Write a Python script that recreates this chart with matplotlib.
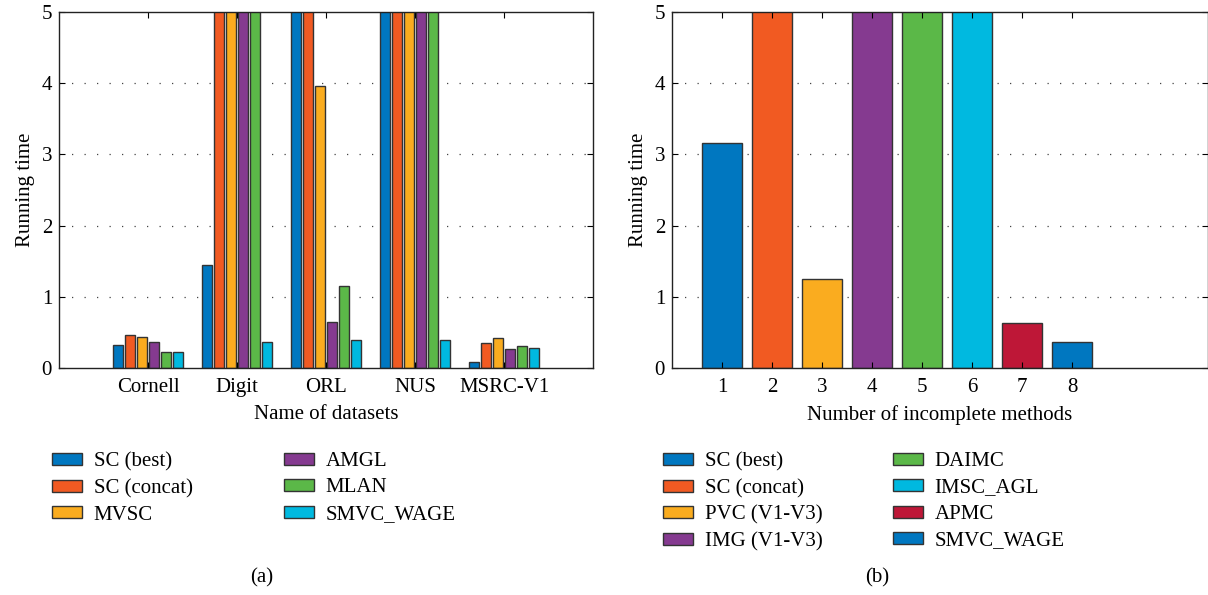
import matplotlib
matplotlib.use("Agg")
import matplotlib.pyplot as plt
from matplotlib.patches import Patch
import numpy as np

plt.rcParams['font.family'] = ['Liberation Serif', 'DejaVu Serif']

# ---------------- data ----------------
datasets = ["Cornell", "Digit", "ORL", "NUS", "MSRC-V1"]
methods_a = ["SC (best)", "SC (concat)", "MVSC", "AMGL", "MLAN", "SMVC_WAGE"]
# values above 5 are clipped by the axis (drawn at the top)
sc_best   = [0.32, 1.44, 8.0, 8.0, 0.09]
sc_concat = [0.47, 8.0, 8.0, 8.0, 0.35]
mvsc      = [0.43, 8.0, 3.96, 8.0, 0.42]
amgl      = [0.37, 8.0, 0.64, 8.0, 0.26]
mlan      = [0.23, 8.0, 1.15, 8.0, 0.31]
smvc_wage = [0.23, 0.36, 0.40, 0.40, 0.28]
series_a = [sc_best, sc_concat, mvsc, amgl, mlan, smvc_wage]

methods_b = ["SC (best)", "SC (concat)", "PVC (V1-V3)", "IMG (V1-V3)",
             "DAIMC", "IMSC_AGL", "APMC", "SMVC_WAGE"]
method_idx_b = [1, 2, 3, 4, 5, 6, 7, 8]
times_b = [3.16, 8.0, 1.25, 8.0, 8.0, 8.0, 0.63, 0.37]

colors_a = ["#0077C0", "#F15A22", "#FAAC1F", "#853A90", "#5BB848", "#00B9E0"]
colors_b = ["#0077C0", "#F15A22", "#FAAC1F", "#853A90", "#5BB848", "#00B9E0",
            "#BE1737", "#0077C0"]

W, H = 1208, 595
fig = plt.figure(figsize=(W / 100, H / 100), dpi=100)

def px_axes(x0, y0, x1, y1):
    return fig.add_axes([x0 / W, 1 - y1 / H, (x1 - x0) / W, (y1 - y0) / H])

FS = 15
EDGE = "#333333"

def style(ax):
    ax.set_ylim(0, 5)
    ax.set_yticks([0, 1, 2, 3, 4, 5])
    for yv in [1, 2, 3, 4]:
        ax.axhline(yv, color="#444444", lw=0.9, ls=(0, (1, 9)), zorder=0.5)
    ax.tick_params(direction="in", top=True, right=True, length=4,
                   width=0.8, labelsize=FS)
    ax.tick_params(axis="x", pad=7)
    ax.tick_params(axis="y", pad=5)
    for s in ax.spines.values():
        s.set_linewidth(1.0)
        s.set_color("#222222")
    ax.set_ylabel("Running time", fontsize=FS, labelpad=5)

# ---------------- panel (a) ----------------
axa = px_axes(59, 12, 593, 368)
x = np.arange(1, len(datasets) + 1)
step, bw = 0.134, 0.112
for i, (vals, c, lab) in enumerate(zip(series_a, colors_a, methods_a)):
    axa.bar(x + (i - 2.5) * step, vals, width=bw, color=c,
            edgecolor=EDGE, linewidth=1.0, label=lab, zorder=1)
axa.set_xlim(0, 6)
axa.set_xticks(x)
axa.set_xticklabels(datasets)
style(axa)
axa.set_xlabel("Name of datasets", fontsize=FS, labelpad=6)

# ---------------- panel (b) ----------------
axb = px_axes(672, 12, 1208, 368)
for xi, v, c, lab in zip(method_idx_b, times_b, colors_b, methods_b):
    axb.bar(xi, v, width=0.8, color=c, edgecolor=EDGE, linewidth=1.0,
            label=lab, zorder=1)
axb.set_xlim(0, 10.72)
axb.set_xticks(method_idx_b)
style(axb)
axb.set_xlabel("Number of incomplete methods", fontsize=FS, labelpad=6)

# ---------------- legends ----------------
def col_legend(handles, labels, xpx, ypx):
    return fig.legend(handles, labels, loc="upper left",
                      bbox_to_anchor=(xpx / W, 1 - ypx / H),
                      frameon=False, fontsize=FS, handlelength=1.45,
                      handleheight=0.5, handletextpad=0.55, labelspacing=0.36,
                      borderpad=0, borderaxespad=0)

ha = [Patch(facecolor=c, edgecolor=EDGE, linewidth=1.0) for c in colors_a]
col_legend(ha[:3], methods_a[:3], 52, 452)
col_legend(ha[3:], methods_a[3:], 284, 452)
hb = [Patch(facecolor=c, edgecolor=EDGE, linewidth=1.0) for c in colors_b]
col_legend(hb[:4], methods_b[:4], 663, 452)
col_legend(hb[4:], methods_b[4:], 893, 452)

fig.text(262 / W, 1 - 578 / H, "(a)", ha="center", va="center", fontsize=FS)
fig.text(877 / W, 1 - 578 / H, "(b)", ha="center", va="center", fontsize=FS)

fig.savefig("out.png", dpi=100)
